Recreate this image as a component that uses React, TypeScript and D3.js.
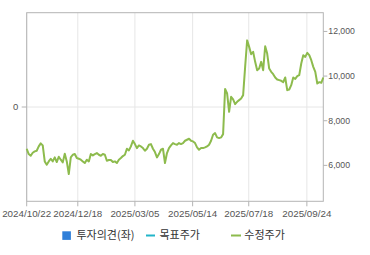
import React from "react";
import * as d3 from "d3";

const prices: number[] = [
  6745, 6506, 6431, 6566, 6625, 6655, 6849, 6983, 6894, 6178,
  6029, 6178, 6297, 6178, 6357, 6148, 6387, 6253, 6133, 6521,
  6178, 5611, 6357, 6476, 6506, 6327, 6297, 6253, 6178, 6104,
  6253, 6178, 6506, 6446, 6506, 6551, 6476, 6431, 6506, 6476,
  6208, 6238, 6238, 6148, 6178, 6104, 6253, 6327, 6417, 6476,
  6745, 6670, 6849, 7102, 6953, 6774, 6894, 6849, 6774, 6655,
  6745, 6924, 6953, 6745, 6595, 6357, 6506, 6700, 6745, 6104,
  6551, 6774, 6894, 6998, 6953, 6924, 6998, 6953, 6998, 7102,
  7147, 7192, 7102, 7073, 6998, 6804, 6700, 6774, 6774, 6804,
  6849, 6924, 7102, 7371, 7445, 7252, 7222, 7252, 7400, 9420,
  9221, 8401, 9072, 8953, 8744, 8849, 8923, 8998, 9147, 10414,
  11600, 11309, 10981, 11085, 10638, 10265, 10339, 10638, 10265, 11338,
  11010, 10339, 10190, 10086, 9937, 9847, 9818, 9788, 9728, 9937,
  9370, 9400, 9594, 9937, 9877, 9997, 10041, 10563, 10936, 10861,
  11040, 10936, 10712, 10414, 10190, 9669, 9728, 9699, 9937,
];

const xTickLabels: string[] = ["2024/10/22", "2024/12/18", "2025/03/05", "2025/05/14", "2025/07/18", "2025/09/24"];
const xTickIndex: number[] = [0, 25.5, 54, 82.8, 110.8, 139.8];
const rightTicks: number[] = [6000, 8000, 10000, 12000];
const leftTicks: number[] = [0];
const legendItems: string[] = ["투자의견(좌)", "목표주가", "수정주가"];

export default function App() {
  const left = 26.7, right = 323.3, top = 12.7, bottom = 201.3;
  const x = d3.scaleLinear().domain([0, prices.length - 1]).range([left, right]);
  const y = d3.scaleLinear().domain([4390, 12840]).range([bottom, top]);
  const yl = d3.scaleLinear().domain([-1, 1]).range([bottom, top]);
  const line = d3.line<number>().x((_, i) => x(i)).y((d) => y(d));
  const font = "'Liberation Sans', Arial, sans-serif";
  const green = "#8dbb4d";
  return (
    <svg width={370} height={255} style={{ position: "absolute", left: 0, top: 0, background: "#fff" }}>
      {xTickIndex.map((t, i) => (
        <line key={"vg" + i} x1={x(t)} x2={x(t)} y1={top} y2={bottom} stroke="#e6e6e6" strokeWidth={1} />
      ))}
      {leftTicks.map((t) => (
        <line key={"hg" + t} x1={left} x2={right} y1={yl(t)} y2={yl(t)} stroke="#e6e6e6" strokeWidth={1} />
      ))}
      <rect x={left} y={top} width={right - left} height={bottom - top} fill="none" stroke="#b4b4b4" strokeWidth={1} />
      {leftTicks.map((t) => (
        <g key={"lt" + t}>
          <line x1={left - 5} x2={left} y1={yl(t)} y2={yl(t)} stroke="#b4b4b4" />
          <text x={15.7} y={yl(t)} dy="0.35em" textAnchor="middle" fontSize={9.5} fill="#555" fontFamily={font}>{t}</text>
        </g>
      ))}
      {rightTicks.map((t) => (
        <g key={"rt" + t}>
          <line x1={right} x2={right + 4} y1={y(t)} y2={y(t)} stroke="#b4b4b4" />
          <text x={right + 5} y={y(t)} dy="0.35em" textAnchor="start" fontSize={8.7} fill="#555" fontFamily={font}>{d3.format(",")(t)}</text>
        </g>
      ))}
      {xTickIndex.map((t, i) => (
        <g key={"xt" + i}>
          <line x1={x(t)} x2={x(t)} y1={bottom} y2={bottom + 5} stroke="#b4b4b4" />
          <text x={x(t)} y={214} dy="0.35em" textAnchor="middle" fontSize={9.8} fill="#555" fontFamily={font}>{xTickLabels[i]}</text>
        </g>
      ))}
      <path d={line(prices) || ""} fill="none" stroke={green} strokeWidth={2} strokeLinejoin="round" />
      <g fontFamily="'Noto Sans CJK KR', sans-serif" fontSize={11} fill="#333">
        <rect x={62.3} y={231.3} width={8.6} height={8.6} fill="#2f7fd9" />
        <text x={76.5} y={235.5} dy="0.35em">{legendItems[0]}</text>
        <line x1={146} x2={155} y1={235.5} y2={235.5} stroke="#22b5c9" strokeWidth={2} />
        <text x={159.5} y={235.5} dy="0.35em">{legendItems[1]}</text>
        <line x1={231} x2={241} y1={235.5} y2={235.5} stroke={green} strokeWidth={2} />
        <text x={244.3} y={235.5} dy="0.35em">{legendItems[2]}</text>
      </g>
    </svg>
  );
}
